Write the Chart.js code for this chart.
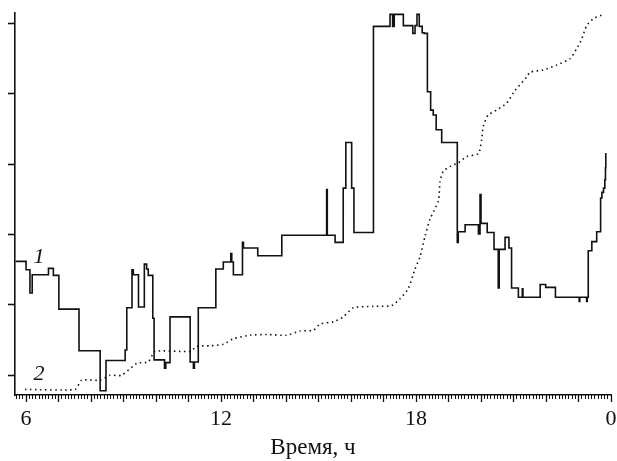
<!DOCTYPE html>
<html>
<head>
<meta charset="utf-8">
<script src="https://cdn.jsdelivr.net/npm/chart.js@4.4.1/dist/chart.umd.min.js"></script>
<style>
  html, body { margin: 0; padding: 0; background: #fff; }
  #wrap { width: 617px; height: 461px; }
</style>
</head>
<body>
<div id="wrap"><canvas id="chart" width="617" height="461"></canvas></div>
<script>
/* axis ranges: time in hours, 24 is shown as "0" */
const X_MIN = 5.66, X_MAX = 24;
const Y_MIN = 0.72, Y_MAX = 6.15;
const hourLabels = { 6: "6", 12: "12", 18: "18", 24: "0" };
const AXIS_TITLE = "Время, ч";

/* curve 1 - stepped record */
const time1 = [5.68, 6.00, 6.12, 6.19, 6.69, 6.84, 7.01, 7.63, 8.28, 8.46,
  9.05, 9.10, 9.26, 9.30, 9.46, 9.64, 9.71, 9.76, 9.90, 9.94,
  10.26, 10.30, 10.43, 11.05, 11.15, 11.18, 11.30, 11.84, 12.07, 12.30,
  12.33, 12.38, 12.66, 12.69, 13.13, 13.87, 15.25, 15.27, 15.51, 15.76,
  15.84, 16.02, 16.09, 16.69, 17.20, 17.28, 17.33, 17.61, 17.90, 17.97,
  18.03, 18.10, 18.19, 18.25, 18.35, 18.45, 18.53, 18.62, 18.79, 19.27,
  19.30, 19.51, 19.92, 19.97, 20.00, 20.19, 20.40, 20.53, 20.56, 20.74,
  20.86, 20.94, 21.15, 21.27, 21.29, 21.82, 21.99, 22.29, 23.02, 23.04,
  23.25, 23.27, 23.30, 23.41, 23.56, 23.68, 23.72, 23.77, 23.81, 23.83, 23.84];
const value1 = [2.62, 2.50, 2.17, 2.43, 2.52, 2.42, 1.94, 1.35, 0.78, 1.21,
  1.36, 1.96, 2.50, 2.43, 1.97, 2.58, 2.51, 2.42, 1.81, 1.22,
  1.10, 1.18, 1.83, 1.19, 1.10, 1.19, 1.96, 2.51, 2.61, 2.73,
  2.61, 2.43, 2.89, 2.81, 2.70, 2.99, 3.64, 2.99, 2.89, 3.66,
  4.31, 3.66, 3.03, 5.96, 6.13, 5.96, 6.13, 5.97, 5.86, 5.97,
  6.13, 5.96, 5.87, 5.86, 5.03, 4.77, 4.70, 4.49, 4.31, 2.89,
  3.04, 3.14, 3.01, 3.57, 3.16, 3.03, 2.79, 2.24, 2.79, 2.96,
  2.81, 2.24, 2.11, 2.23, 2.11, 2.29, 2.25, 2.11, 2.05, 2.11,
  2.05, 2.11, 2.77, 2.90, 3.04, 3.52, 3.60, 3.66, 3.78, 3.95, 4.16];

/* curve 2 - dotted */
const time2 = [5.97, 7.51, 7.71, 8.28, 8.58, 8.94, 9.41, 9.76, 9.97, 11.05,
  11.25, 11.66, 12.07, 12.38, 12.89, 13.41, 14.02, 14.43, 14.84, 15.05,
  15.46, 15.76, 16.07, 16.69, 17.25, 17.51, 17.76, 17.97, 18.12, 18.28,
  18.43, 18.69, 18.74, 18.84, 19.05, 19.30, 19.56, 19.92, 20.02, 20.07,
  20.22, 20.48, 20.79, 21.05, 21.41, 21.51, 21.92, 22.33, 22.74, 22.94,
  23.10, 23.25, 23.46, 23.78];
const value2 = [0.80, 0.80, 0.93, 0.93, 1.00, 1.00, 1.17, 1.19, 1.34, 1.34,
  1.41, 1.42, 1.44, 1.52, 1.57, 1.58, 1.57, 1.63, 1.64, 1.73,
  1.76, 1.83, 1.96, 1.98, 1.99, 2.09, 2.23, 2.51, 2.68, 2.98,
  3.22, 3.48, 3.76, 3.90, 3.97, 4.02, 4.11, 4.15, 4.35, 4.54,
  4.70, 4.77, 4.87, 5.05, 5.24, 5.31, 5.34, 5.41, 5.50, 5.64,
  5.78, 5.97, 6.07, 6.13];

/* curve numbers and where they sit */
const curveNames = ["1", "2"];
const nameTime = [6.40, 6.40];
const nameValue = [2.68, 1.01];

const INK = "#111";
const SERIF = "'Liberation Serif', 'Times New Roman', serif";

const toXY = (xs, ys) => xs.map((x, i) => ({ x: x, y: ys[i] }));

// draws the italic "1" / "2" next to each curve
const curveNamePlugin = {
  id: "curveNames",
  afterDatasetsDraw(chart) {
    const { ctx, scales } = chart;
    ctx.save();
    ctx.fillStyle = INK;
    ctx.font = "italic 22px " + SERIF;
    ctx.textAlign = "center";
    ctx.textBaseline = "middle";
    curveNames.forEach((name, i) => {
      ctx.fillText(name, scales.x.getPixelForValue(nameTime[i]), scales.y.getPixelForValue(nameValue[i]));
    });
    ctx.restore();
  }
};

new Chart(document.getElementById("chart"), {
  type: "line",
  data: {
    datasets: [
      {
        data: toXY(time1, value1),
        stepped: true,
        borderColor: INK,
        borderWidth: 1.6,
        pointRadius: 0,
        fill: false
      },
      {
        data: toXY(time2, value2),
        borderColor: INK,
        borderWidth: 1.6,
        borderDash: [1.5, 3.5],
        pointRadius: 0,
        tension: 0.2,
        fill: false
      }
    ]
  },
  options: {
    responsive: false,
    animation: false,
    parsing: false,
    layout: { padding: { left: 8, top: 13, right: 0, bottom: 0 } },
    plugins: { legend: { display: false }, tooltip: { enabled: false } },
    scales: {
      x: {
        type: "linear",
        min: X_MIN,
        max: X_MAX,
        border: { color: INK, width: 1.6 },
        grid: { drawOnChartArea: false, tickLength: 7, tickColor: INK, tickWidth: 1.3 },
        ticks: {
          stepSize: 1,
          includeBounds: false,
          autoSkip: false,
          maxRotation: 0,
          padding: 6,
          color: INK,
          font: { family: SERIF, size: 22, lineHeight: 1 },
          callback: v => hourLabels[Math.round(v)] !== undefined && Math.abs(v - Math.round(v)) < 1e-6 ? hourLabels[Math.round(v)] : ""
        },
        // the "0" label may hang past the axis end, keep the axis long
        afterFit: scale => { scale.paddingRight = 6; },
        title: {
          display: true,
          text: AXIS_TITLE,
          color: INK,
          font: { family: SERIF, size: 23, lineHeight: 1 },
          padding: { top: 0, bottom: 2 }
        }
      },
      // tenth-of-hour ticks along the time axis
      xMinor: {
        type: "linear",
        axis: "x",
        position: { y: Y_MIN },
        min: X_MIN,
        max: X_MAX,
        border: { display: false },
        grid: { drawOnChartArea: false, tickLength: 4, tickColor: INK, tickWidth: 1 },
        ticks: { stepSize: 0.1, includeBounds: false, autoSkip: false, display: false }
      },
      y: {
        type: "linear",
        min: Y_MIN,
        max: Y_MAX,
        border: { color: INK, width: 1.6 },
        grid: { drawOnChartArea: false, tickLength: 7, tickColor: INK, tickWidth: 1.6 },
        ticks: { stepSize: 1, includeBounds: false, display: false }
      }
    }
  },
  plugins: [curveNamePlugin]
});
</script>
</body>
</html>
